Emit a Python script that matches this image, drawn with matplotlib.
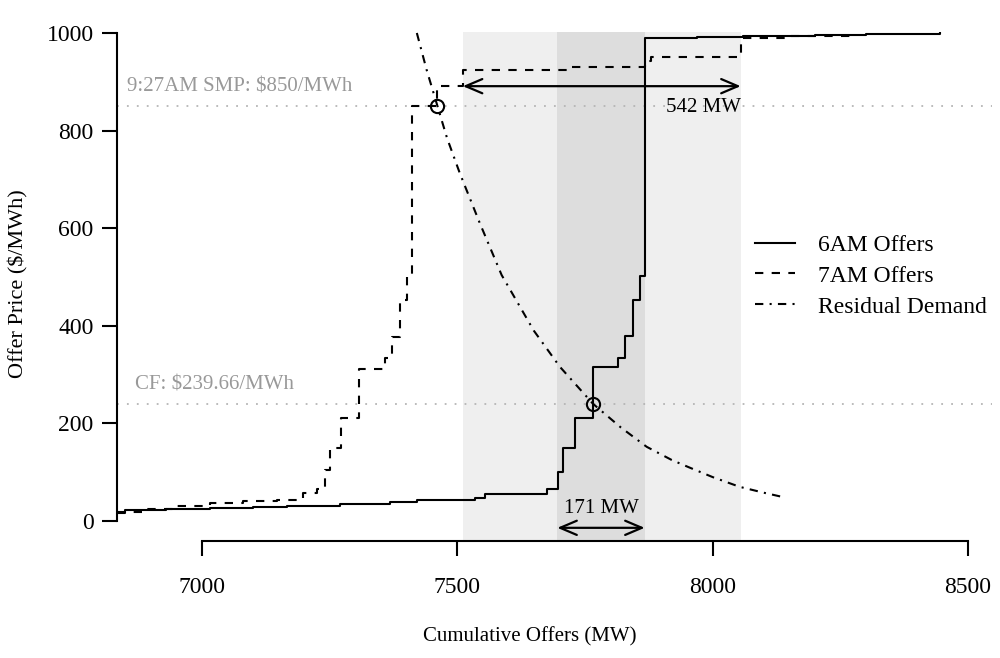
import matplotlib
matplotlib.use("Agg")
import matplotlib.pyplot as plt
from matplotlib.lines import Line2D

# ---------------- data ----------------
six_mw = [6834, 6849, 6930, 7016, 7100, 7166, 7270, 7315, 7368, 7421, 7486, 7535,
          7554, 7676, 7697, 7707, 7730, 7766, 7815, 7828, 7844, 7858, 7867, 7969,
          8059, 8200, 8300, 8445]
six_price = [17, 22, 24, 26, 28, 31, 34, 35, 38, 42, 44, 48,
             55, 66, 100, 150, 211, 316, 333, 379, 453, 502, 990, 992,
             994, 996, 998, 1000]

seven_mw = [6834, 6884, 6950, 7016, 7080, 7147, 7198, 7225, 7241, 7251, 7272, 7307,
            7358, 7372, 7388, 7401, 7411, 7460, 7511, 7717, 7867, 7880, 8055, 8150,
            8283]
seven_price = [19, 24, 30, 36, 40, 44, 57, 65, 105, 150, 211, 311,
               333, 377, 453, 500, 850, 891, 924, 930, 943, 950, 990, 994,
               997]

demand_mw = [7421, 7440, 7460, 7480, 7505, 7544, 7587, 7650, 7701, 7766, 7820,
             7871, 7920, 7956, 8000, 8053, 8100, 8138]
demand_price = [1000, 925, 855, 785, 713, 611, 504, 390, 316, 240, 192,
                152, 125, 109, 90, 70, 58, 49]

smp_price = 850
cf_price = 239.66
smp_label = "9:27AM SMP: $850/MWh"
cf_label = "CF: $239.66/MWh"
window_7am = (7511, 8055)   # 542 MW
window_6am = (7696, 7867)   # 171 MW
label_7am = "542 MW"
label_6am = "171 MW"
cross_points_mw = [7461, 7765]
cross_points_price = [850, 240]

xticks = [7000, 7500, 8000, 8500]
yticks = [0, 200, 400, 600, 800, 1000]

# ---------------- figure ----------------
plt.rcParams['font.family'] = ['Liberation Serif', 'DejaVu Serif']
fig = plt.figure(figsize=(10, 6.58), dpi=100)
W, H = 1000, 658
left, right, top, bottom = 117, 992, 32, 541
ax = fig.add_axes([left / W, 1 - bottom / H, (right - left) / W, (bottom - top) / H])
ax.set_xlim(6834, 8547)
ax.set_ylim(-41, 1002)

# shaded windows
ax.axvspan(window_7am[0], window_7am[1], color='#efefef', lw=0, zorder=0)
ax.axvspan(window_6am[0], window_6am[1], color='#dddddd', lw=0, zorder=0)

# reference lines
for p in (smp_price, cf_price):
    ax.axhline(p, color='#b5b5b5', lw=1.3, linestyle=(0, (1, 4.5)), zorder=1)
ax.text(6853, 881, smp_label, color='#999999', fontsize=15, ha='left', va='baseline')
ax.text(6869, 270, cf_label, color='#999999', fontsize=15, ha='left', va='baseline')

lw = 1.5
ax.step(six_mw, six_price, where='post', color='black', lw=lw, zorder=3)
ax.step(seven_mw, seven_price, where='post', color='black', lw=lw,
        linestyle=(0, (4, 4)), zorder=3)
ax.plot(demand_mw, demand_price, color='black', lw=lw,
        linestyle=(0, (4, 3, 1, 3)), zorder=3)

ax.plot(cross_points_mw, cross_points_price, 'o', ms=9.5, mfc='none', mec='black',
        mew=1.5, zorder=4)

# arrows
ap = dict(arrowstyle='<->,head_length=0.75,head_width=0.32', lw=1.6, color='black',
          shrinkA=0, shrinkB=0)
ax.annotate('', xy=(window_7am[0], 891), xytext=(window_7am[1], 891),
            arrowprops=ap, fontsize=16, zorder=5)
ax.annotate('', xy=(window_6am[0], -14), xytext=(window_6am[1], -14),
            arrowprops=ap, fontsize=16, zorder=5)
ax.text(window_7am[1], 848, label_7am, fontsize=15, ha='right', va='center')
ax.text(sum(window_6am) / 2, 26, label_6am, fontsize=15, ha='center', va='center')

# axes styling (R-like)
for s in ('top', 'right'):
    ax.spines[s].set_visible(False)
ax.spines['left'].set_bounds(0, 1000)
ax.spines['bottom'].set_bounds(7000, 8500)
for s in ('left', 'bottom'):
    ax.spines[s].set_linewidth(1.5)
ax.set_xticks(xticks)
ax.set_yticks(yticks)
ax.tick_params(axis='both', direction='out', length=10.8, width=1.5, labelsize=17)
ax.tick_params(axis='x', pad=15)
ax.tick_params(axis='y', pad=6)

ax.set_xlabel("Cumulative Offers (MW)", fontsize=15)
ax.set_ylabel("Offer Price ($/MWh)", fontsize=16)
ax.xaxis.set_label_coords((530 - left) / (right - left), (bottom - 637) / (bottom - top))
ax.xaxis.label.set_va('center')
ax.yaxis.set_label_coords((18 - left) / (right - left), (bottom - 284) / (bottom - top))
ax.yaxis.label.set_va('center')

handles = [Line2D([], [], color='black', lw=lw),
           Line2D([], [], color='black', lw=lw, linestyle=(0, (4, 4))),
           Line2D([], [], color='black', lw=lw, linestyle=(0, (4, 3, 1, 3)))]
fig.legend(handles, ["6AM Offers", "7AM Offers", "Residual Demand"],
           loc='center left', bbox_to_anchor=(755 / W, 1 - 276 / H),
           frameon=False, fontsize=17, handlelength=1.7, handletextpad=0.95,
           labelspacing=0.4, borderpad=0, borderaxespad=0)

fig.savefig("out.png", dpi=100)
